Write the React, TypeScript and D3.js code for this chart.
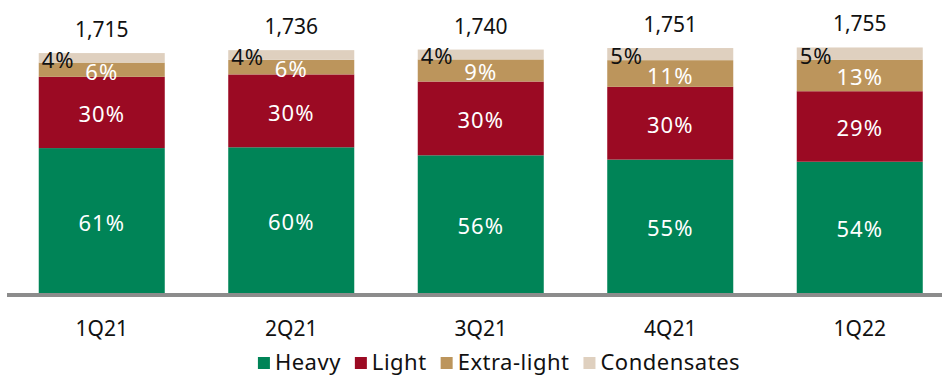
import React, { useEffect, useRef } from 'react';
import * as d3 from 'd3';

const categories = ['1Q21', '2Q21', '3Q21', '4Q21', '1Q22'];
const totals = [1715, 1736, 1740, 1751, 1755];
const heavy = [61, 60, 56, 55, 54];
const light = [30, 30, 30, 30, 29];
const extraLight = [6, 6, 9, 11, 13];
const condensates = [4, 4, 4, 5, 5];
const seriesNames = ['Heavy', 'Light', 'Extra-light', 'Condensates'];
const seriesKeys = ['heavy', 'light', 'extraLight', 'condensates'];
const colors = ['#008457', '#9b0a23', '#bc955c', '#dfd0bf'];

const W = 942;
const H = 375;
const FONT = "'Noto Sans', 'Open Sans', sans-serif";

export default function App() {
  const ref = useRef<SVGSVGElement>(null);

  useEffect(() => {
    const svg = d3.select(ref.current);
    svg.selectAll('*').remove();

    const rows = categories.map((c, i) => {
      const pcts = [heavy[i], light[i], extraLight[i], condensates[i]];
      const sum = d3.sum(pcts);
      const row: any = { cat: c, total: totals[i] };
      seriesKeys.forEach((k, j) => {
        row[k] = (pcts[j] / sum) * totals[i];
        row[k + 'Pct'] = pcts[j];
      });
      return row;
    });

    const x = d3.scaleBand<string>().domain(categories).range([7, 954.5]).paddingInner(0.335).paddingOuter(0.1675);
    const baseY = 293;
    const y = d3.scaleLinear().domain([0, 2000]).range([baseY, baseY - 279.8]);

    const stack = d3.stack<any>().keys(seriesKeys);
    const series = stack(rows);

    const g = svg.append('g');
    series.forEach((s, si) => {
      g.append('g')
        .selectAll('rect')
        .data(s)
        .join('rect')
        .attr('x', (d: any) => x(d.data.cat)!)
        .attr('width', x.bandwidth())
        .attr('y', (d: any) => y(d[1]))
        .attr('height', (d: any) => y(d[0]) - y(d[1]))
        .attr('fill', colors[si]);
    });

    // segment labels
    series.forEach((s, si) => {
      const key = seriesKeys[si];
      const isCond = key === 'condensates';
      g.append('g')
        .selectAll('text')
        .data(s)
        .join('text')
        .attr('x', (d: any) => (isCond ? x(d.data.cat)! + 3 : x(d.data.cat)! + x.bandwidth() / 2))
        .attr('y', (d: any) => (y(d[0]) + y(d[1])) / 2 + 1)
        .attr('text-anchor', isCond ? 'start' : 'middle')
        .attr('dominant-baseline', 'central')
        .attr('font-family', FONT)
        .attr('font-size', 22)
        .attr('letter-spacing', 1)
        .attr('fill', isCond ? '#111' : '#fff')
        .text((d: any) => `${d.data[key + 'Pct']}%`);
    });

    // totals
    g.append('g')
      .selectAll('text')
      .data(rows)
      .join('text')
      .attr('x', (d: any) => x(d.cat)! + x.bandwidth() / 2)
      .attr('y', (d: any) => y(d.total) - 24)
      .attr('text-anchor', 'middle')
      .attr('dominant-baseline', 'central')
      .attr('font-family', FONT)
      .attr('font-size', 21)
      .attr('fill', '#111')
      .text((d: any) => d3.format(',')(d.total));

    // axis line
    svg.append('rect')
      .attr('x', 7)
      .attr('y', baseY)
      .attr('width', W - 7)
      .attr('height', 4)
      .attr('fill', '#8c8c8c');

    // category labels
    svg.append('g')
      .selectAll('text')
      .data(categories)
      .join('text')
      .attr('x', (d) => x(d)! + x.bandwidth() / 2)
      .attr('y', 328)
      .attr('text-anchor', 'middle')
      .attr('dominant-baseline', 'central')
      .attr('font-family', FONT)
      .attr('font-size', 21)
      .attr('fill', '#111')
      .text((d) => d);

    // legend
    const lg = svg.append('g');
    const items = lg
      .selectAll('g')
      .data(seriesNames)
      .join('g');
    items
      .append('rect')
      .attr('width', 12)
      .attr('height', 12)
      .attr('y', 357)
      .attr('fill', (_d, i) => colors[i]);
    items
      .append('text')
      .attr('x', 17)
      .attr('y', 369.5)
      .attr('font-family', FONT)
      .attr('font-size', 22)
      .attr('letter-spacing', 0.5)
      .attr('fill', '#111')
      .text((d) => d);
    const widths: number[] = [];
    items.each(function () {
      const t = d3.select(this).select('text').node() as SVGTextElement;
      widths.push(17 + t.getComputedTextLength());
    });
    const gap = 14;
    const totalW = d3.sum(widths) + gap * (widths.length - 1);
    let cx = 499 - totalW / 2;
    items.each(function (_d, i) {
      d3.select(this).attr('transform', `translate(${cx},0)`);
      cx += widths[i] + gap;
    });
  }, []);

  return (
    <svg
      ref={ref}
      width={W}
      height={H}
      style={{ position: 'absolute', left: 0, top: 0, background: '#fff' }}
    />
  );
}
